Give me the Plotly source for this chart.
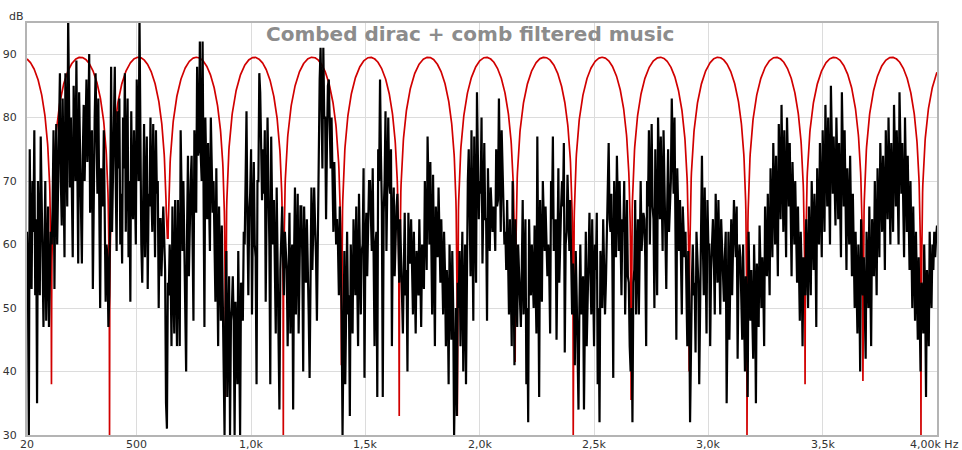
import numpy as np
import plotly.graph_objects as go

# Music spectrum after the comb filter: one value every 4 Hz starting at 20 Hz (dB)
music_start_hz = 20
music_step_hz = 4
music_db = [
    62, 55, 30, 75, 60, 53, 70, 62, 78, 52, 64, 35, 70, 60, 52,
    77, 62, 58, 47, 64, 70, 48, 60, 66, 47, 58, 62, 60, 66, 78,
    53, 70, 79, 60, 72, 75, 87, 70, 63, 83, 68, 58, 87, 74, 66,
    96, 74, 69, 80, 70, 58, 85, 74, 70, 89, 72, 57, 84, 73, 66,
    57, 74, 82, 70, 76, 86, 73, 78, 90, 65, 75, 78, 53, 72, 80,
    87, 74, 68, 83, 70, 50, 72, 68, 66, 78, 64, 51, 60, 58, 47,
    52, 66, 88, 62, 72, 74, 88, 70, 59, 81, 72, 83, 60, 68, 57,
    80, 72, 87, 62, 74, 83, 58, 70, 51, 81, 68, 64, 78, 70, 60,
    86, 74, 70, 96, 72, 60, 54, 68, 79, 58, 70, 77, 53, 68, 66,
    80, 68, 62, 79, 66, 58, 78, 68, 70, 50, 64, 64, 55, 62, 66,
    61, 56, 35, 31, 54, 52, 60, 56, 44, 66, 54, 46, 67, 55, 44,
    67, 58, 44, 78, 62, 59, 70, 60, 46, 40, 62, 74, 55, 64, 70,
    74, 62, 48, 78, 70, 65, 88, 74, 75, 92, 74, 70, 92, 72, 47,
    80, 68, 64, 76, 66, 59, 80, 68, 65, 70, 62, 51, 72, 60, 44,
    66, 56, 48, 63, 52, 44, 30, 50, 59, 36, 50, 55, 30, 48, 50,
    55, 48, 30, 51, 46, 38, 59, 48, 30, 54, 50, 48, 62, 60, 70,
    81, 64, 52, 65, 68, 75, 49, 64, 73, 60, 58, 38, 70, 70, 87,
    84, 70, 67, 75, 68, 78, 51, 66, 80, 70, 60, 38, 77, 66, 60,
    67, 58, 46, 69, 56, 41, 34, 56, 64, 66, 58, 52, 62, 58, 56,
    44, 58, 65, 46, 58, 60, 34, 58, 69, 49, 60, 68, 46, 58, 66,
    66, 58, 40, 66, 58, 54, 64, 58, 49, 39, 60, 69, 56, 62, 69,
    63, 58, 48, 62, 70, 86, 91, 78, 72, 91, 80, 80, 64, 76, 85,
    86, 76, 72, 80, 70, 62, 73, 66, 60, 64, 60, 52, 66, 58, 49,
    30, 52, 59, 38, 54, 62, 49, 52, 33, 60, 54, 46, 64, 56, 52,
    66, 58, 44, 68, 58, 49, 59, 60, 72, 39, 60, 65, 55, 62, 70,
    70, 64, 59, 72, 60, 44, 60, 62, 36, 75, 70, 86, 74, 66, 36,
    65, 70, 81, 59, 68, 80, 70, 68, 75, 44, 64, 69, 55, 62, 66,
    68, 60, 54, 64, 58, 49, 46, 56, 65, 52, 56, 40, 65, 58, 57,
    64, 56, 49, 62, 56, 46, 59, 56, 52, 64, 56, 47, 60, 56, 53,
    70, 62, 56, 77, 64, 60, 73, 62, 49, 71, 60, 44, 66, 60, 58,
    69, 60, 54, 64, 56, 49, 62, 56, 44, 56, 52, 38, 60, 52, 45,
    59, 50, 30, 46, 50, 33, 54, 50, 59, 44, 54, 62, 40, 54, 60,
    38, 58, 70, 75, 64, 55, 78, 64, 48, 77, 66, 54, 84, 68, 64,
    70, 68, 80, 57, 66, 76, 64, 64, 48, 72, 64, 59, 69, 64, 62,
    66, 64, 59, 75, 66, 67, 83, 68, 62, 78, 68, 66, 60, 62, 56,
    67, 58, 49, 64, 56, 44, 70, 58, 41, 64, 56, 47, 60, 56, 52,
    47, 56, 67, 49, 56, 64, 38, 50, 32, 64, 56, 52, 60, 56, 50,
    63, 56, 46, 77, 62, 36, 67, 60, 51, 70, 62, 59, 66, 60, 55,
    60, 56, 46, 70, 64, 77, 59, 62, 64, 45, 60, 72, 54, 62, 66,
    70, 66, 76, 43, 60, 62, 71, 62, 59, 67, 58, 49, 57, 52, 41,
    59, 52, 44, 34, 50, 60, 49, 52, 55, 34, 52, 62, 44, 52, 57,
    65, 56, 49, 64, 54, 44, 60, 56, 65, 38, 50, 32, 59, 52, 50,
    64, 56, 49, 54, 60, 70, 76, 64, 62, 68, 58, 39, 70, 62, 58,
    74, 64, 59, 70, 62, 52, 64, 62, 70, 49, 58, 67, 55, 54, 44,
    40, 50, 32, 54, 56, 67, 49, 58, 64, 49, 58, 70, 59, 62, 65,
    64, 58, 44, 70, 66, 78, 60, 68, 79, 66, 64, 50, 75, 64, 52,
    80, 70, 64, 77, 68, 59, 78, 68, 63, 53, 66, 75, 62, 68, 70,
    83, 72, 68, 80, 66, 45, 72, 64, 59, 67, 60, 49, 66, 60, 58,
    62, 54, 44, 59, 52, 32, 49, 54, 60, 52, 54, 43, 62, 56, 54,
    38, 54, 64, 74, 60, 52, 69, 60, 46, 67, 60, 60, 44, 56, 62,
    64, 58, 49, 68, 58, 54, 67, 58, 49, 64, 58, 56, 51, 58, 62,
    35, 52, 62, 45, 56, 64, 52, 58, 67, 62, 58, 66, 42, 56, 60,
    58, 52, 45, 60, 52, 40, 55, 50, 36, 62, 52, 48, 56, 50, 42,
    60, 52, 35, 57, 54, 47, 63, 56, 50, 58, 54, 44, 66, 58, 55,
    68, 62, 52, 72, 64, 58, 76, 66, 60, 74, 64, 55, 79, 68, 64,
    82, 70, 62, 78, 68, 58, 80, 70, 66, 76, 66, 55, 73, 64, 60,
    70, 62, 54, 66, 58, 48, 62, 56, 44, 58, 56, 52, 64, 58, 50,
    66, 60, 52, 70, 62, 56, 68, 62, 47, 72, 64, 60, 76, 66, 58,
    78, 70, 62, 82, 72, 66, 80, 70, 60, 85, 72, 68, 77, 70, 63,
    80, 70, 64, 76, 68, 58, 84, 70, 66, 78, 66, 56, 72, 64, 60,
    74, 62, 55, 68, 60, 50, 62, 56, 46, 60, 54, 40, 64, 56, 52,
    58, 52, 42, 62, 56, 50, 66, 58, 44, 64, 60, 55, 70, 62, 52,
    72, 66, 58, 76, 68, 62, 74, 68, 56, 78, 70, 64, 80, 70, 60,
    76, 70, 62, 82, 72, 66, 78, 70, 60, 84, 72, 68, 76, 68, 58,
    80, 70, 62, 74, 64, 56, 70, 62, 50, 66, 58, 48, 62, 54, 45,
    58, 50, 40, 54, 52, 46, 60, 52, 36, 56, 52, 44, 62, 54, 50,
    60, 56, 62, 58, 61, 63,
]

# Combed dirac: peak level, notch frequencies and the depth each notch reaches
comb_peak_db = 89.5
notch_hz = [127, 381, 634, 888, 1141, 1395, 1648, 1902,
            2155, 2409, 2662, 2916, 3169, 3423, 3676, 3930]
notch_floor_db = [38, 30, 61, 36, 30, 41, 33, 33,
                  41.5, 30, 35.5, 40, 30, 38, 38.5, 30]

x_tick_hz = [20, 500, 1000, 1500, 2000, 2500, 3000, 3500]
x_tick_text = ["20", "500", "1,0k", "1,5k", "2,0k", "2,5k", "3,0k", "3,5k"]
last_tick_label = "4,00k Hz"
x_grid_hz = x_tick_hz + [4000]
y_tick_db = [30, 40, 50, 60, 70, 80, 90]

# music trace
music_hz = music_start_hz + music_step_hz * np.arange(len(music_db))

# comb response: |sin| arches between notches, each notch bottoming at its floor
notches = np.array(notch_hz, dtype=float)
floors = np.array(notch_floor_db, dtype=float)
spacing = np.diff(notches).mean()
comb_hz = np.union1d(np.arange(20.0, 4000.5, 1.0), notches)
nearest = np.abs(comb_hz[:, None] - notches[None, :]).argmin(axis=1)
offset = comb_hz - notches[nearest]
mag = np.abs(np.sin(np.pi * offset / spacing))
with np.errstate(divide="ignore"):
    comb_db = comb_peak_db + 20 * np.log10(mag)
comb_db = np.maximum(comb_db, floors[nearest])

fig = go.Figure()
fig.add_trace(go.Scatter(
    x=comb_hz, y=comb_db, mode="lines",
    line=dict(color="#d10000", width=1.7),
    hoverinfo="skip", showlegend=False,
))
fig.add_trace(go.Scatter(
    x=music_hz, y=music_db, mode="lines",
    line=dict(color="#000000", width=2.2),
    hoverinfo="skip", showlegend=False,
))

label_font = dict(family="DejaVu Sans", size=11, color="#333333")
axis_common = dict(
    showline=True, mirror=True, linecolor="#b4b4b4", linewidth=2,
    showgrid=True, gridcolor="#dcdcdc", gridwidth=1,
    zeroline=False, ticks="", automargin=False,
    tickfont=label_font,
)

plot_left, plot_right = 27, 937
width = 962

# frequency labels under the axis, drawn as text at each gridline
x_labels = [
    dict(text=t, x=hz, xref="x", yref="paper", y=0.0, yshift=-9,
         xanchor="center", yanchor="middle", showarrow=False, font=label_font)
    for hz, t in zip(x_tick_hz, x_tick_text)
]
x_labels.append(
    dict(text=last_tick_label, xref="paper", yref="paper",
         x=(961 - plot_left) / (plot_right - plot_left), y=0.0,
         yshift=-9, xanchor="right", yanchor="middle",
         showarrow=False, font=label_font)
)

fig.update_layout(
    width=width, height=450,
    margin=dict(l=plot_left, r=width - plot_right, t=23, b=15),
    paper_bgcolor="white", plot_bgcolor="white",
    xaxis=dict(range=[20, 4000], tickvals=x_grid_hz, showticklabels=False,
               **axis_common),
    yaxis=dict(range=[30, 94.9], tickvals=y_tick_db, ticklabelstandoff=6,
               **axis_common),
    annotations=[
        dict(text="<b>Combed dirac + comb filtered music</b>",
             xref="paper", yref="paper", x=0.487, y=0.973,
             xanchor="center", yanchor="middle", showarrow=False,
             font=dict(family="DejaVu Sans", size=20, color="#8c8c8c")),
        dict(text="dB", xref="paper", yref="paper",
             x=(7 - plot_left) / (plot_right - plot_left), y=1.0,
             yshift=-2, xanchor="left", yanchor="bottom", showarrow=False,
             font=label_font),
    ] + x_labels,
)

fig.write_html("out.html")
